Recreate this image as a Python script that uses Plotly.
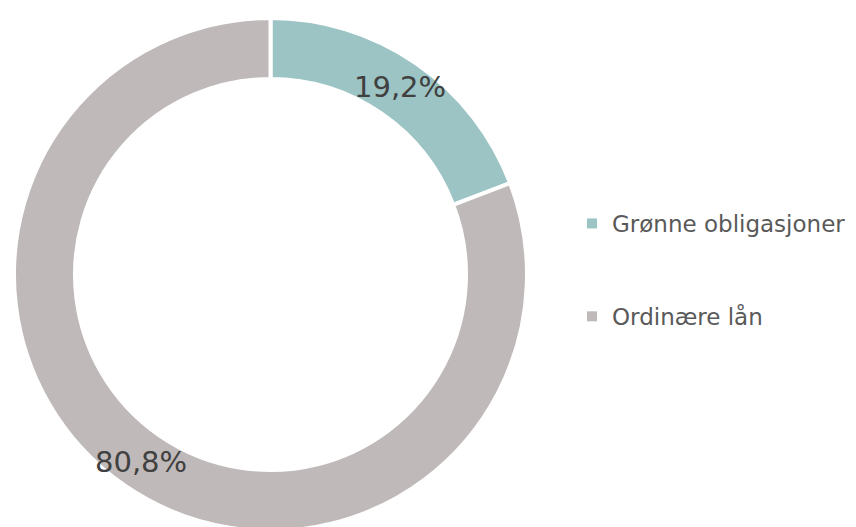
import math
import plotly.graph_objects as go

labels = ["Grønne obligasjoner", "Ordinære lån"]
values = [19.2, 80.8]
colors = ["#9DC4C4", "#BFB9B9"]

# page body has an 8px margin; figure sized so it fills the window
OFF = 8
W, H = 856 - OFF, 532 - OFF

# donut geometry in screen pixels
CX, CY, R_OUT, R_IN = 270.5, 274.5, 256.5, 195.5
R_LAB = 228

fig = go.Figure()
fig.add_trace(go.Pie(
    labels=labels, values=values, hole=R_IN / R_OUT, sort=False, direction="clockwise",
    rotation=0, marker=dict(colors=colors, line=dict(color="white", width=4)),
    textinfo="none", textposition="none",
    domain=dict(x=[(CX - R_OUT - OFF) / W, (CX + R_OUT - OFF) / W],
                y=[max(0, 1 - (CY + R_OUT - OFF) / H), 1 - (CY - R_OUT - OFF) / H]),
    showlegend=False, hoverinfo="label+percent",
))

total = sum(values)
cum = 0.0
for v in values:
    mid = (cum + v / 2) / total * 2 * math.pi
    cum += v
    px = CX + R_LAB * math.sin(mid) - OFF
    py = CY - R_LAB * math.cos(mid) - OFF
    fig.add_annotation(
        x=px / W, y=1 - py / H, xref="paper", yref="paper", showarrow=False,
        text=f"{v / total * 100:.1f}%".replace(".", ","),
        font=dict(family="DejaVu Sans", size=29, color="#404040"),
        xanchor="center", yanchor="middle",
    )

for lab, col in zip(labels, colors):
    fig.add_trace(go.Scatter(
        x=[None], y=[None], mode="markers", name=lab, legendgroup=lab,
        marker=dict(symbol="square", size=10, color=col),
    ))

fig.update_layout(
    width=W, height=H, margin=dict(l=0, r=0, t=0, b=0),
    paper_bgcolor="white", plot_bgcolor="white",
    xaxis=dict(visible=False), yaxis=dict(visible=False),
    legend=dict(x=(572 - OFF) / W, xanchor="left", y=1 - (270 - OFF) / H, yanchor="middle",
                font=dict(family="DejaVu Sans", size=23, color="#595959"),
                tracegroupgap=60, bgcolor="rgba(0,0,0,0)"),
)
fig.write_html("out.html")
